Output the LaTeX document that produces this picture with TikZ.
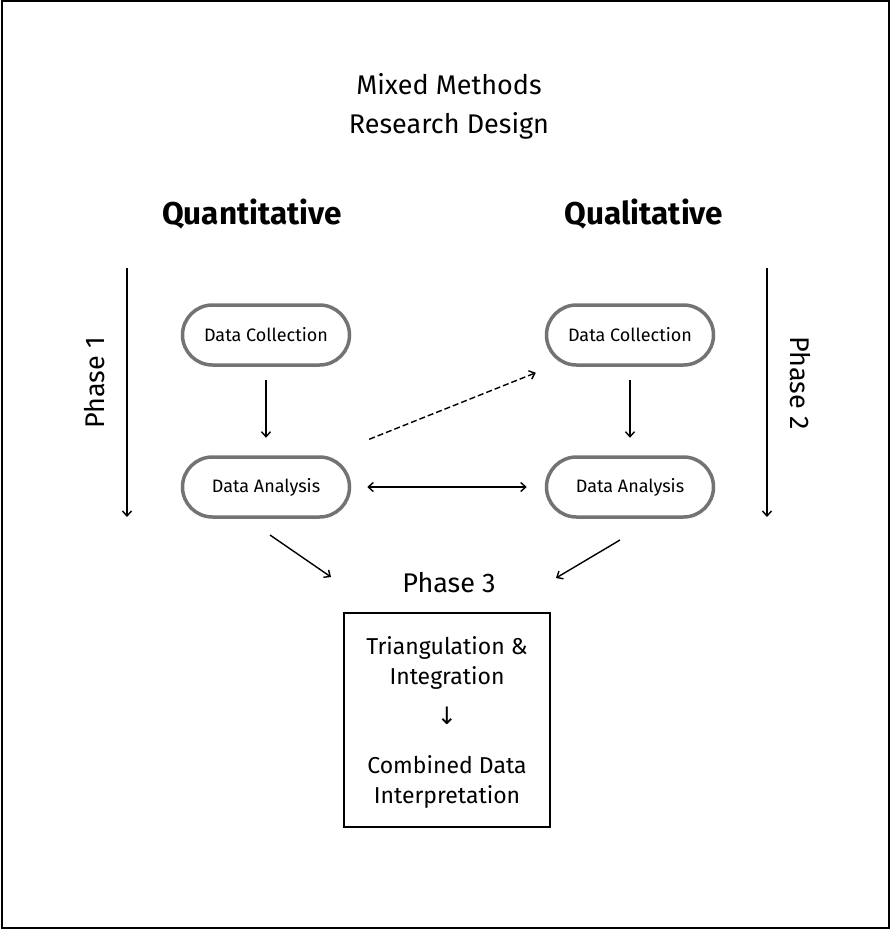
\documentclass[tikz,border=0pt]{standalone}
\usepackage{fontspec}
\setmainfont{Fira Sans}
\newfontfamily\symfont{DejaVu Sans}
\usetikzlibrary{arrows.meta,calc}
\begin{document}
\begin{tikzpicture}[x=1pt,y=-1pt,
  pill/.style={draw=black!55, line width=3.5pt, rounded corners=30pt,
    minimum width=167pt, minimum height=60pt, font=\fontsize{18}{20}\selectfont},
  tip/.style={-{Straight Barb[length=5pt,width=9pt]}, line width=1.4pt},
  heading/.style={font=\fontsize{31.5}{36}\selectfont\bfseries},
  label/.style={font=\fontsize{27}{30}\selectfont}]
\useasboundingbox (0,0) rectangle (891,930);
% outer frame
\draw[line width=2pt] (2,1) rectangle (889,928);

% title and column headings
\node[font=\fontsize{27}{39}\selectfont, align=center] (title) at (449,106)
  {Mixed Methods\\Research Design};
\node[heading] (quant) at (252,214) {Quantitative};
\node[heading] (qual) at (644,214) {Qualitative};

% phase arrows at the sides
\coordinate (p1a) at (127,268);
\coordinate (p1b) at (127,517);
\coordinate (p2a) at (767,268);
\coordinate (p2b) at (767,517);
\draw[tip] (p1a) -- (p1b);
\draw[tip] (p2a) -- (p2b);
\node[label, rotate=90] (ph1) at (95,383) {Phase 1};
\node[label, rotate=-90] (ph2) at (800,383) {Phase 2};

% process steps
\node[pill] (qdc) at (266,335) {Data Collection};
\node[pill] (qda) at (266,487) {Data Analysis};
\node[pill] (ldc) at (630,335) {Data Collection};
\node[pill] (lda) at (630,487) {Data Analysis};

\draw[tip] (qdc.south) ++(0,13) coordinate (a1) -- ++(0,58);
\draw[tip] (ldc.south) ++(0,13) coordinate (a2) -- ++(0,58);
\draw[tip, dashed, dash pattern=on 6pt off 3pt] (qda.north east) ++(18,-16) coordinate (d1) -- ($(ldc.south west)+(-9,6)$);
\draw[{Straight Barb[length=5pt,width=9pt]}-{Straight Barb[length=5pt,width=9pt]}, line width=1.4pt]
  (qda.east) ++(16,0) -- ($(lda.west)+(-18,0)$);

% integration phase
\node[label] (ph3) at (449,583) {Phase 3};
\node[draw, line width=2pt, minimum width=206pt, minimum height=214pt] (box) at (447,720) {};
\node[font=\fontsize{23}{30}\selectfont, align=center] (tri) at (447,663)
  {Triangulation \&\\Integration};
\node[font=\fontsize{24}{26}\selectfont\symfont] (down) at (447,716) {↓};
\node[font=\fontsize{23}{29.5}\selectfont, align=center] (comb) at (447,782)
  {Combined Data\\Interpretation};

\coordinate (l1) at (270,535);
\coordinate (l2) at (331,577);
\coordinate (r1) at (620,540);
\coordinate (r2) at (556,578);
\draw[tip] (l1) -- (l2);
\draw[tip] (r1) -- (r2);
\end{tikzpicture}
\end{document}
